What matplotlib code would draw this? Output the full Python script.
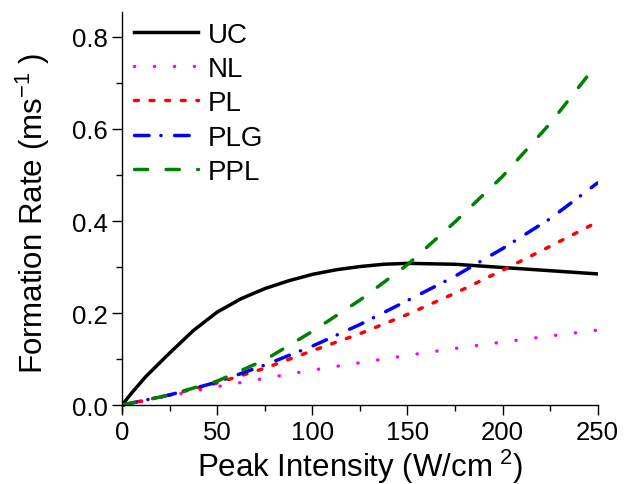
import matplotlib
matplotlib.use('Agg')
import matplotlib.pyplot as plt
from matplotlib.ticker import MultipleLocator

plt.rcParams['font.family'] = ['Liberation Sans', 'DejaVu Sans']
plt.rcParams['mathtext.default'] = 'regular'

# data
x_uc = [0, 5, 12.5, 25, 37.5, 50, 62.5, 75, 87.5, 100, 112.5, 125, 137.5, 150, 175, 200, 225, 250]
uc = [0, 0.026, 0.062, 0.113, 0.162, 0.202, 0.231, 0.253, 0.270, 0.284, 0.294, 0.301, 0.306, 0.308, 0.306, 0.299, 0.292, 0.285]

x = [0, 25, 50, 75, 100, 125, 150, 175, 200, 225, 250]
nl = [0, 0.020, 0.040, 0.058, 0.076, 0.092, 0.108, 0.123, 0.137, 0.150, 0.163]
pl = [0, 0.022, 0.048, 0.080, 0.118, 0.155, 0.197, 0.243, 0.293, 0.345, 0.398]
plg = [0, 0.022, 0.050, 0.087, 0.128, 0.175, 0.227, 0.280, 0.340, 0.405, 0.483]
ppl = [0, 0.022, 0.052, 0.098, 0.160, 0.228, 0.305, 0.398, 0.497, 0.612, 0.743]

fig = plt.figure(figsize=(6.3, 4.85), dpi=100)
ax = fig.add_axes([0.1937, 0.1485, 0.755, 0.8245])

lw = 2.5
ax.plot(x_uc, uc, color='black', lw=lw, label='UC')
ax.plot(x, nl, color='#FF00FF', lw=lw, dashes=(0.05, 5.7), dash_capstyle='round', label='NL')
ax.plot(x, pl, color='#FF0000', lw=lw, dashes=(1.1, 3.4), dash_capstyle='round', label='PL')
ax.plot(x, plg, color='#0000FF', lw=lw, dashes=(4.2, 3.4, 0.05, 3.9), dash_capstyle='round', label='PLG')
ax.plot(x, ppl, color='#008000', lw=lw, dashes=(3.8, 5.3), dash_capstyle='round', label='PPL')

ax.set_xlim(0, 250)
ax.set_ylim(-0.015, 0.854)
ax.spines['top'].set_visible(False)
ax.spines['right'].set_visible(False)
ax.spines['bottom'].set_position(('data', 0))
for s in ['left', 'bottom']:
    ax.spines[s].set_linewidth(1.0)

ax.xaxis.set_major_locator(MultipleLocator(50))
ax.xaxis.set_minor_locator(MultipleLocator(25))
ax.yaxis.set_major_locator(MultipleLocator(0.2))
ax.yaxis.set_minor_locator(MultipleLocator(0.1))
ax.set_yticks([0, 0.2, 0.4, 0.6, 0.8])
ax.set_yticklabels(['0.0', '0.2', '0.4', '0.6', '0.8'])
ax.tick_params(which='major', length=7, width=1, labelsize=18.5)
ax.tick_params(which='minor', length=4, width=1)

ax.set_xlabel('Peak Intensity (W/cm$^{\\ 2}$)', fontsize=22.5, labelpad=2)
ax.set_ylabel('Formation Rate (ms$^{-1}$ )', fontsize=22.5, labelpad=14)

ax.legend(loc='upper left', bbox_to_anchor=(-0.015, 1.025), frameon=False, fontsize=20,
          handlelength=2.3, handletextpad=0.35, labelspacing=0.3, borderaxespad=0.3)

plt.savefig('out.png', dpi=100)
plt.close()
